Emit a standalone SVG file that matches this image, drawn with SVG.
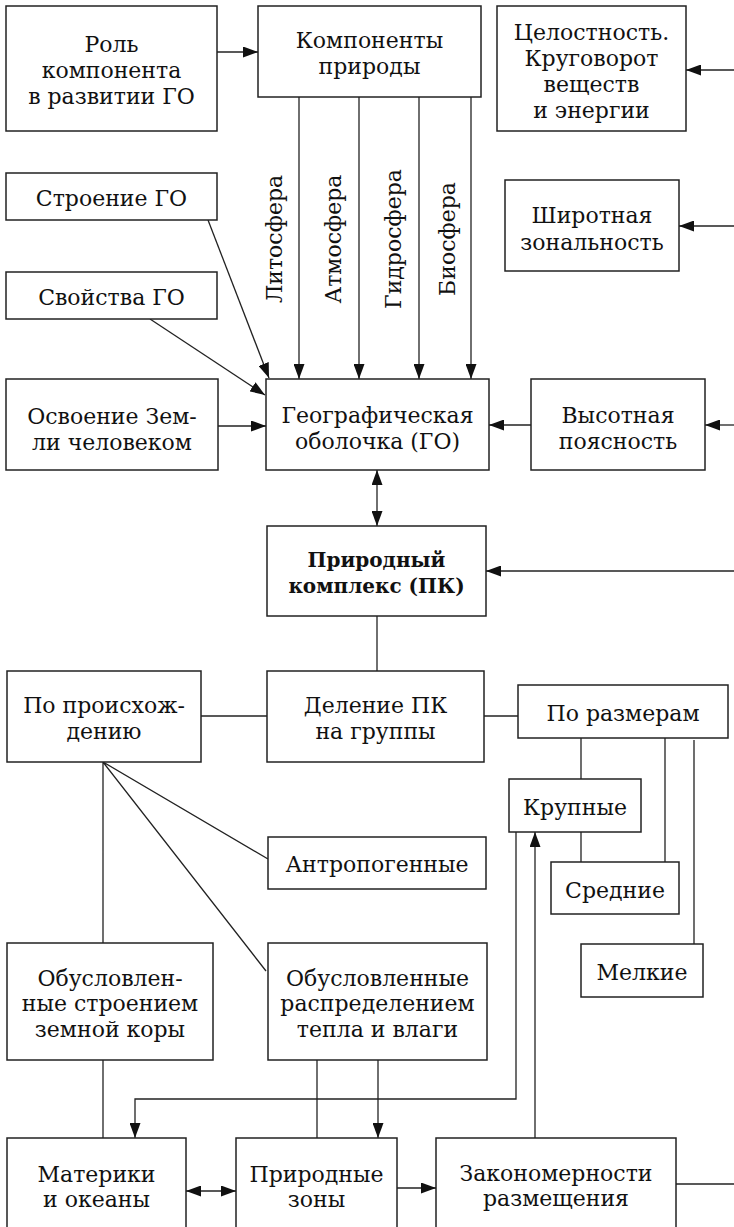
<svg xmlns="http://www.w3.org/2000/svg" width="734" height="1227" viewBox="0 0 734 1227">
<style>
.box{fill:#fff;stroke:#222;stroke-width:1.5}
.ln{stroke:#222;stroke-width:1.3;fill:none}
.ar{marker-end:url(#ah)}
.dbl{marker-start:url(#ah);marker-end:url(#ah)}
text{fill:#111;text-anchor:middle}
</style>
<defs>
<marker id="ah" markerUnits="userSpaceOnUse" markerWidth="15" markerHeight="11" refX="15" refY="5.5" orient="auto-start-reverse">
<path d="M0,0 L15,5.5 L0,11 z" fill="#111"/>
</marker>
</defs>
<rect width="734" height="1227" fill="#fff"/>
<g id="connectors">
<path class="ln ar" d="M217,52 H258"/>
<path class="ln ar" d="M299,97 V379"/>
<path class="ln ar" d="M359,97 V379"/>
<path class="ln ar" d="M419,97 V379"/>
<path class="ln ar" d="M471,97 V379"/>
<path class="ln ar" d="M734,70 H686"/>
<path class="ln ar" d="M734,226 H679"/>
<path class="ln ar" d="M208,220 L269,378"/>
<path class="ln ar" d="M150,319 L265,395"/>
<path class="ln ar" d="M218,426 H266"/>
<path class="ln ar" d="M531,425 H489"/>
<path class="ln ar" d="M734,425 H705"/>
<path class="ln dbl" d="M377,470 V526"/>
<path class="ln ar" d="M734,571 H486"/>
<path class="ln" d="M377,616 V671"/>
<path class="ln" d="M201,716 H267"/>
<path class="ln" d="M484,716 H518"/>
<path class="ln" d="M581,738 V779 M581,832 V862 M665,738 V862 M694,740 V944"/>
<path class="ln" d="M103,762 V943 M103,762 L268,859 M103,762 L266,971"/>
<path class="ln" d="M103,1060 V1138"/>
<path class="ln" d="M317,1060 V1138"/>
<path class="ln ar" d="M378,1060 V1138"/>
<path class="ln ar" d="M516,832 V1099 H135 V1138"/>
<path class="ln ar" d="M535,1138 V832"/>
<path class="ln dbl" d="M186,1191 H236"/>
<path class="ln ar" d="M397,1188 H436"/>
<path class="ln" d="M676,1184 H734"/>
</g>
<g id="rol"><rect class="box" x="6" y="6" width="211" height="125"/><text font-family="DejaVu Serif" font-size="22" x="111.5" y="52">Роль</text><text font-family="DejaVu Serif" font-size="22" x="111.5" y="78">компонента</text><text font-family="DejaVu Serif" font-size="22" x="111.5" y="104">в развитии ГО</text></g>
<g id="komponenty"><rect class="box" x="258" y="6" width="223" height="91"/><text font-family="DejaVu Serif" font-size="22" x="369.5" y="48">Компоненты</text><text font-family="DejaVu Serif" font-size="22" x="369.5" y="74">природы</text></g>
<g id="celostnost"><rect class="box" x="497" y="6" width="189" height="125"/><text font-family="DejaVu Serif" font-size="22" x="591.5" y="40">Целостность.</text><text font-family="DejaVu Serif" font-size="22" x="591.5" y="66">Круговорот</text><text font-family="DejaVu Serif" font-size="22" x="591.5" y="92">веществ</text><text font-family="DejaVu Serif" font-size="22" x="591.5" y="118">и энергии</text></g>
<g id="sfery">
<text font-family="DejaVu Serif" font-size="22" transform="translate(282,239) rotate(-90)">Литосфера</text>
<text font-family="DejaVu Serif" font-size="22" transform="translate(341,239) rotate(-90)">Атмосфера</text>
<text font-family="DejaVu Serif" font-size="22" transform="translate(401,239) rotate(-90)">Гидросфера</text>
<text font-family="DejaVu Serif" font-size="22" transform="translate(455,239) rotate(-90)">Биосфера</text>
</g>
<g id="stroenie"><rect class="box" x="6" y="173" width="211" height="47"/><text font-family="DejaVu Serif" font-size="22" x="111.5" y="206">Строение ГО</text></g>
<g id="shirotnaya"><rect class="box" x="505" y="180" width="174" height="91"/><text font-family="DejaVu Serif" font-size="22" x="592" y="223">Широтная</text><text font-family="DejaVu Serif" font-size="22" x="592" y="250">зональность</text></g>
<g id="svoistva"><rect class="box" x="6" y="272" width="211" height="47"/><text font-family="DejaVu Serif" font-size="22" x="111.5" y="305">Свойства ГО</text></g>
<g id="osvoenie"><rect class="box" x="6" y="379" width="212" height="91"/><text font-family="DejaVu Serif" font-size="22" x="112" y="424">Освоение Зем-</text><text font-family="DejaVu Serif" font-size="22" x="112" y="450">ли человеком</text></g>
<g id="go"><rect class="box" x="266" y="379" width="223" height="91"/><text font-family="DejaVu Serif" font-size="22" x="377.5" y="423">Географическая</text><text font-family="DejaVu Serif" font-size="22" x="377.5" y="449">оболочка (ГО)</text></g>
<g id="vysotnaya"><rect class="box" x="531" y="379" width="174" height="91"/><text font-family="DejaVu Serif" font-size="22" x="618" y="423">Высотная</text><text font-family="DejaVu Serif" font-size="22" x="618" y="449">поясность</text></g>
<g id="pk"><rect class="box" x="267" y="526" width="219" height="90"/><text font-family="DejaVu Serif" font-size="20" font-weight="bold" x="376.5" y="567">Природный</text><text font-family="DejaVu Serif" font-size="20" font-weight="bold" x="376.5" y="593">комплекс (ПК)</text></g>
<g id="proishozhdenie"><rect class="box" x="7" y="671" width="194" height="91"/><text font-family="DejaVu Serif" font-size="22" x="104" y="713">По происхож-</text><text font-family="DejaVu Serif" font-size="22" x="104" y="739">дению</text></g>
<g id="delenie"><rect class="box" x="267" y="671" width="217" height="91"/><text font-family="DejaVu Serif" font-size="22" x="375.5" y="713">Деление ПК</text><text font-family="DejaVu Serif" font-size="22" x="375.5" y="739">на группы</text></g>
<g id="razmery"><rect class="box" x="518" y="685" width="210" height="53"/><text font-family="DejaVu Serif" font-size="22" x="623" y="721">По размерам</text></g>
<g id="krupnye"><rect class="box" x="509" y="779" width="132" height="53"/><text font-family="DejaVu Serif" font-size="22" x="575" y="815">Крупные</text></g>
<g id="antropogennye"><rect class="box" x="268" y="837" width="218" height="52"/><text font-family="DejaVu Serif" font-size="22" x="377" y="872">Антропогенные</text></g>
<g id="srednie"><rect class="box" x="551" y="862" width="128" height="52"/><text font-family="DejaVu Serif" font-size="22" x="615" y="898">Средние</text></g>
<g id="melkie"><rect class="box" x="581" y="944" width="122" height="53"/><text font-family="DejaVu Serif" font-size="22" x="642" y="980">Мелкие</text></g>
<g id="obusl-stroeniem"><rect class="box" x="7" y="943" width="206" height="117"/><text font-family="DejaVu Serif" font-size="22" x="110" y="986">Обусловлен-</text><text font-family="DejaVu Serif" font-size="22" x="110" y="1011">ные строением</text><text font-family="DejaVu Serif" font-size="22" x="110" y="1037">земной коры</text></g>
<g id="obusl-raspred"><rect class="box" x="268" y="943" width="219" height="117"/><text font-family="DejaVu Serif" font-size="22" x="377.5" y="986">Обусловленные</text><text font-family="DejaVu Serif" font-size="22" x="377.5" y="1011">распределением</text><text font-family="DejaVu Serif" font-size="22" x="377.5" y="1037">тепла и влаги</text></g>
<g id="materiki"><rect class="box" x="7" y="1138" width="179" height="100"/><text font-family="DejaVu Serif" font-size="22" x="96.5" y="1182">Материки</text><text font-family="DejaVu Serif" font-size="22" x="96.5" y="1207">и океаны</text></g>
<g id="prirodnye-zony"><rect class="box" x="236" y="1138" width="161" height="100"/><text font-family="DejaVu Serif" font-size="22" x="316.5" y="1182">Природные</text><text font-family="DejaVu Serif" font-size="22" x="316.5" y="1207">зоны</text></g>
<g id="zakonomernosti"><rect class="box" x="436" y="1138" width="240" height="100"/><text font-family="DejaVu Serif" font-size="22" x="556" y="1181">Закономерности</text><text font-family="DejaVu Serif" font-size="22" x="556" y="1206">размещения</text></g>
</svg>
